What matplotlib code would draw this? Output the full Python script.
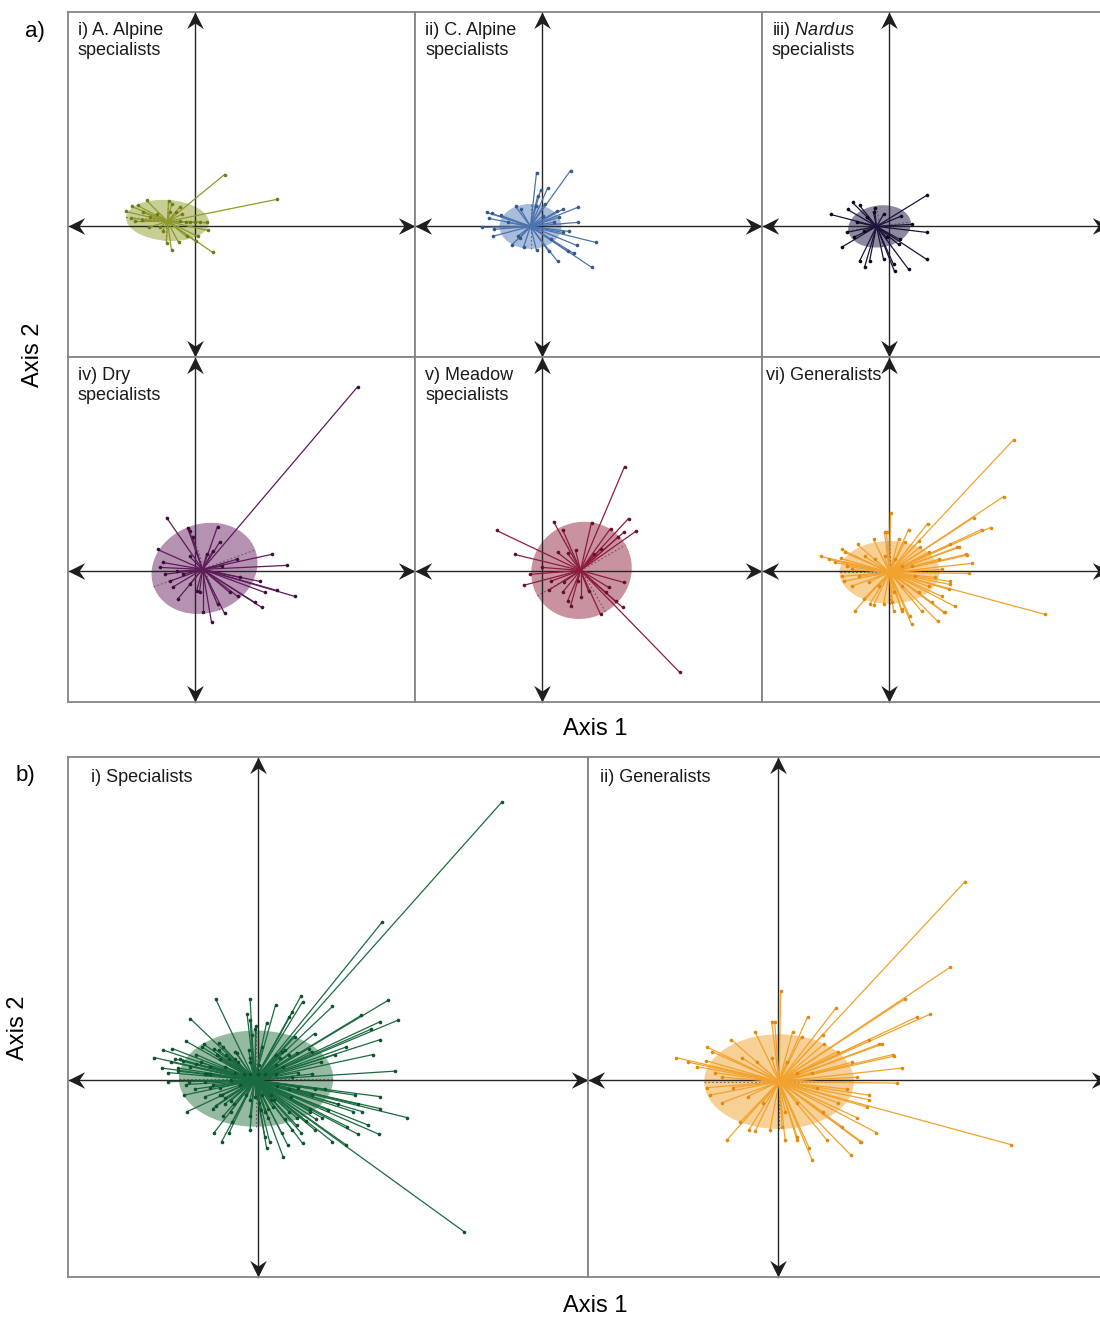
import numpy as np
import matplotlib.pyplot as plt
from matplotlib.patches import Ellipse
from matplotlib.path import Path

plt.rcParams['font.family'] = ['Liberation Sans', 'DejaVu Sans']
plt.rcParams['mathtext.fontset'] = 'custom'
plt.rcParams['mathtext.rm'] = 'Liberation Sans'
plt.rcParams['mathtext.it'] = 'Liberation Sans:italic'

# site scores (axis 1, axis 2) for each habitat group
alpine_a = [(0.30, 0.52), (0.82, 0.27), (0.18, -0.26), (-0.23, -0.24), (-0.28, -0.17),
            (-0.16, -0.16), (0.01, -0.15), (0.13, -0.04), (0.12, 0.04), (0.05, 0.04),
            (0.00, 0.04), (-0.05, 0.04), (-0.09, 0.04), (-0.15, 0.05), (-0.19, 0.14),
            (-0.15, 0.19), (-0.23, 0.22), (-0.26, 0.25), (-0.48, 0.26), (-0.57, 0.21),
            (-0.63, 0.20), (-0.69, 0.15), (-0.64, 0.08), (-0.60, 0.05), (-0.53, 0.06),
            (-0.46, -0.01), (-0.35, -0.01), (-0.45, 0.09), (-0.38, 0.12), (-0.52, 0.14),
            (-0.32, -0.05), (-0.08, -0.10), (0.03, -0.10), (-0.13, 0.12), (-0.25, 0.14)]
alpine_c = [(-0.05, 0.54), (0.29, 0.56), (-0.01, 0.36), (0.06, 0.38), (-0.04, 0.30),
            (-0.06, 0.20), (0.03, 0.22), (0.15, 0.15), (0.21, 0.17), (0.36, 0.19),
            (0.17, 0.09), (0.36, 0.04), (0.27, -0.05), (0.21, -0.06), (0.54, -0.16),
            (0.35, -0.19), (0.26, -0.25), (0.50, -0.41), (0.32, -0.27), (0.16, -0.35),
            (0.07, -0.25), (-0.05, -0.24), (-0.18, -0.21), (-0.30, -0.19), (-0.22, -0.12),
            (-0.49, -0.10), (-0.60, -0.01), (-0.48, -0.03), (-0.53, 0.08), (-0.55, 0.14),
            (-0.50, 0.13), (-0.41, 0.11), (-0.26, 0.20), (-0.21, 0.17), (-0.34, 0.04),
            (-0.24, -0.10), (0.09, -0.13), (0.12, 0.04), (0.01, 0.10)]
nardus = [(0.38, 0.31), (0.12, 0.10), (0.23, 0.02), (0.38, -0.06), (0.38, -0.33),
          (0.20, -0.43), (0.06, -0.45), (0.05, -0.38), (-0.05, -0.33), (-0.19, -0.35),
          (-0.24, -0.41), (-0.29, -0.35), (-0.47, -0.21), (-0.42, -0.06), (-0.35, -0.11),
          (-0.58, 0.12), (-0.41, 0.17), (-0.36, 0.24), (-0.29, 0.21), (-0.22, 0.09),
          (-0.15, 0.14), (-0.14, 0.18), (-0.05, 0.12), (0.11, -0.13), (0.10, -0.18),
          (-0.02, -0.11), (-0.32, 0.04), (-0.25, -0.05)]
dry = [(1.63, 1.85), (-0.28, 0.54), (-0.07, 0.44), (-0.05, 0.40), (0.23, 0.45),
       (-0.02, 0.34), (0.25, 0.29), (-0.37, 0.22), (0.77, 0.17), (0.42, 0.12),
       (0.92, 0.06), (0.27, 0.05), (-0.32, 0.09), (-0.35, 0.04), (-0.30, -0.03),
       (-0.25, -0.10), (-0.22, -0.16), (-0.17, -0.28), (-0.05, -0.13), (0.02, -0.20),
       (0.05, -0.21), (0.08, -0.41), (0.17, -0.51), (0.30, -0.42), (0.23, -0.33),
       (0.35, -0.21), (0.43, -0.25), (0.60, -0.31), (0.67, -0.36), (0.70, -0.21),
       (0.82, -0.19), (1.00, -0.25), (0.65, -0.10), (0.45, -0.06), (-0.12, -0.03),
       (-0.18, 0.00), (-0.05, 0.15), (0.12, 0.17), (0.18, 0.20)]
meadow = [(0.83, 1.05), (1.38, -1.01), (-0.45, 0.41), (-0.27, 0.17), (-0.18, -0.14),
          (-0.12, -0.03), (0.00, 0.04), (0.12, 0.50), (0.21, 0.42), (0.16, 0.19),
          (0.26, 0.18), (0.34, 0.21), (0.50, 0.49), (0.69, 0.43), (0.87, 0.53),
          (0.82, 0.39), (0.94, 0.40), (0.76, 0.34), (0.59, 0.22), (0.52, 0.17),
          (0.82, -0.11), (0.81, -0.36), (0.74, -0.30), (0.64, -0.21), (0.67, -0.16),
          (0.59, -0.43), (0.47, -0.20), (0.39, -0.26), (0.29, -0.35), (0.26, -0.30),
          (0.21, -0.21), (0.07, -0.19), (0.09, -0.10), (0.22, -0.11), (0.36, -0.10)]
generalists = [(1.25, 1.32), (1.15, 0.75), (0.85, 0.54), (1.02, 0.44), (0.93, 0.42),
               (0.39, 0.48), (0.20, 0.42), (0.02, 0.59), (0.30, 0.30), (0.70, 0.24),
               (0.78, 0.16), (0.83, 0.08), (0.80, -0.02), (0.61, -0.10), (0.61, -0.13),
               (0.60, -0.18), (1.56, -0.43), (0.56, -0.41), (0.49, -0.50), (0.33, -0.40),
               (0.23, -0.53), (0.21, -0.45), (0.13, -0.40), (0.05, -0.40), (0.05, -0.21),
               (0.03, -0.31), (-0.05, -0.33), (-0.19, -0.33), (-0.34, -0.40), (-0.25, -0.28),
               (-0.45, -0.10), (-0.47, -0.05), (-0.42, 0.05), (-0.54, 0.09), (-0.68, 0.15),
               (-0.60, 0.12), (-0.47, 0.22), (-0.44, 0.19), (-0.31, 0.27), (-0.15, 0.32),
               (-0.02, 0.39), (0.10, 0.32), (0.16, 0.29), (0.31, 0.24), (0.40, 0.19),
               (0.50, 0.12), (0.53, 0.02), (0.46, -0.06), (0.40, -0.15), (0.30, -0.21),
               (0.13, -0.15), (-0.10, -0.15), (-0.20, -0.11), (-0.30, -0.05), (-0.37, 0.02),
               (-0.24, 0.15), (-0.14, 0.12), (-0.04, 0.15), (0.06, 0.12), (0.13, 0.05),
               (0.23, 0.05), (0.26, -0.05), (-0.37, -0.15), (0.53, -0.25), (0.43, -0.31),
               (-0.04, 0.39), (0.61, 0.27), (0.68, 0.24), (0.77, 0.17), (0.66, -0.35),
               (0.55, -0.41), (-0.15, -0.34), (0.13, -0.38), (-0.48, 0.13)]

# group centroids
cen_alpine_a = (-0.27, 0.05)
cen_alpine_c = (-0.11, 0.00)
cen_nardus = (-0.12, 0.00)
cen_dry = (0.08, 0.02)
cen_meadow = (0.39, 0.01)
cen_generalists = (0.01, -0.01)
cen_specialists = (-0.02, 0.00)

# standard deviation ellipses: x, y, width, height, angle
ell_alpine_a = (-0.27, 0.06, 0.83, 0.41, -4)
ell_alpine_c = (-0.11, 0.00, 0.62, 0.45, 0)
ell_nardus = (-0.09, 0.00, 0.63, 0.42, 8)
ell_dry = (0.10, 0.03, 1.08, 0.89, 20)
ell_meadow = (0.40, 0.01, 1.02, 0.96, 30)
ell_generalists = (0.01, -0.01, 1.00, 0.63, 0)
ell_specialists = (-0.01, 0.01, 1.03, 0.64, 0)

specialists = alpine_a + alpine_c + nardus + dry + meadow

XLIM = (-1.265, 2.205)
YLIM = (-1.31, 2.15)
W, H = 1100, 1318

fig = plt.figure(figsize=(W / 100, H / 100), dpi=100)

# stealth arrow head, tip at the origin, pointing along +x
_head = np.array([(0, 0), (-1, 0.5), (-0.66, 0), (-1, -0.5), (0, 0)])


def head_marker(deg):
    t = np.deg2rad(deg)
    rot = np.array([[np.cos(t), -np.sin(t)], [np.sin(t), np.cos(t)]])
    return Path(_head @ rot.T, closed=True)


def make_panel(left, top, w, h):
    ax = fig.add_axes([left / W, 1 - (top + h) / H, w / W, h / H])
    ax.set_xlim(XLIM)
    ax.set_ylim(YLIM)
    ax.set_xticks([])
    ax.set_yticks([])
    for s in ax.spines.values():
        s.set_color('#858585')
        s.set_linewidth(1.3)
        s.set_zorder(6)
    kw = dict(color='#262626', lw=1.0, zorder=1.5, clip_on=False)
    ax.plot(XLIM, [0, 0], **kw)
    ax.plot([0, 0], YLIM, **kw)
    mk = dict(ms=24, color='#1e1e1e', mec='none', zorder=5, clip_on=False)
    ax.plot(XLIM[1], 0, marker=head_marker(0), **mk)
    ax.plot(XLIM[0], 0, marker=head_marker(180), **mk)
    ax.plot(0, YLIM[1], marker=head_marker(90), **mk)
    ax.plot(0, YLIM[0], marker=head_marker(270), **mk)
    return ax


def spider(ax, pts, cen, ell, line_col, fill_col, dot_col):
    pts = np.asarray(pts)
    ax.add_patch(Ellipse(ell[:2], ell[2], ell[3], angle=ell[4], fc=fill_col,
                         ec='none', alpha=0.6, zorder=1))
    a = np.deg2rad(ell[4])
    for half, t in ((ell[2] / 2, a), (ell[3] / 2, a + np.pi / 2)):
        dx, dy = half * np.cos(t), half * np.sin(t)
        ax.plot([ell[0] - dx, ell[0] + dx], [ell[1] - dy, ell[1] + dy],
                ls=(0, (1.5, 2)), color='#333333', lw=0.8, alpha=0.6, zorder=2)
    for x, y in pts:
        ax.plot([cen[0], x], [cen[1], y], color=line_col, lw=0.9, zorder=3)
    ax.plot(pts[:, 0], pts[:, 1], 'o', ms=2.6, color=dot_col, mec='none', zorder=4)


def label(ax, lines, dx, dy, w, h, size=13, gap=20):
    # one text per line so every baseline sits at a fixed offset
    for k, txt in enumerate(lines):
        ax.text(dx / w, 1 - (dy + k * gap) / h, txt, transform=ax.transAxes,
                ha='left', va='baseline', fontsize=size, color='#1a1a1a', zorder=7)


# panel a: one group per panel
groups_a = [
    (alpine_a, cen_alpine_a, ell_alpine_a, '#8d9b2c', '#a3ad4c', '#6f7c1c', ['i) A. Alpine', 'specialists']),
    (alpine_c, cen_alpine_c, ell_alpine_c, '#4d73ae', '#6f90c3', '#35598f', ['ii) C. Alpine', 'specialists']),
    (nardus, cen_nardus, ell_nardus, '#1c1438', '#433a63', '#0c0820', ['iii) $\\it{Nardus}$', 'specialists']),
    (dry, cen_dry, ell_dry, '#5d1c59', '#84497f', '#3f0d3c', ['iv) Dry', 'specialists']),
    (meadow, cen_meadow, ell_meadow, '#8c1d3d', '#a54a60', '#6a0f2a', ['v) Meadow', 'specialists']),
    (generalists, cen_generalists, ell_generalists, '#f2a22e', '#f3b24f', '#e08a10', ['vi) Generalists']),
]
cols_a = [68, 415, 762]
rows_a = [12, 357]
for i, (pts, cen, ell, lc, fc, dc, txt) in enumerate(groups_a):
    ax = make_panel(cols_a[i % 3], rows_a[i // 3], 347, 345)
    spider(ax, pts, cen, ell, lc, fc, dc)
    label(ax, txt, 10 if i != 5 else 4, 23, 347, 345)

# panel b: specialists pooled vs generalists
ax = make_panel(68, 757, 520, 520)
spider(ax, specialists, cen_specialists, ell_specialists, '#1b6b40', '#4f8b63', '#0f5230')
label(ax, ['i) Specialists'], 23, 25, 520, 520)
ax = make_panel(588, 757, 520, 520)
spider(ax, generalists, cen_generalists, ell_generalists, '#f2a22e', '#f3b24f', '#e08a10')
label(ax, ['ii) Generalists'], 12, 25, 520, 520)

fig.text(35 / W, 1 - 32 / H, 'a)', fontsize=16, ha='center', va='center')
fig.text(25 / W, 1 - 776 / H, 'b)', fontsize=16, ha='center', va='center')
fig.text(595 / W, 1 - 729 / H, 'Axis 1', fontsize=17, ha='center', va='center')
fig.text(595 / W, 1 - 1306 / H, 'Axis 1', fontsize=17, ha='center', va='center')
fig.text(33 / W, 1 - 355 / H, 'Axis 2', fontsize=17, ha='center', va='center', rotation=90)
fig.text(18 / W, 1 - 1028 / H, 'Axis 2', fontsize=17, ha='center', va='center', rotation=90)

fig.savefig('out.png', dpi=100)
